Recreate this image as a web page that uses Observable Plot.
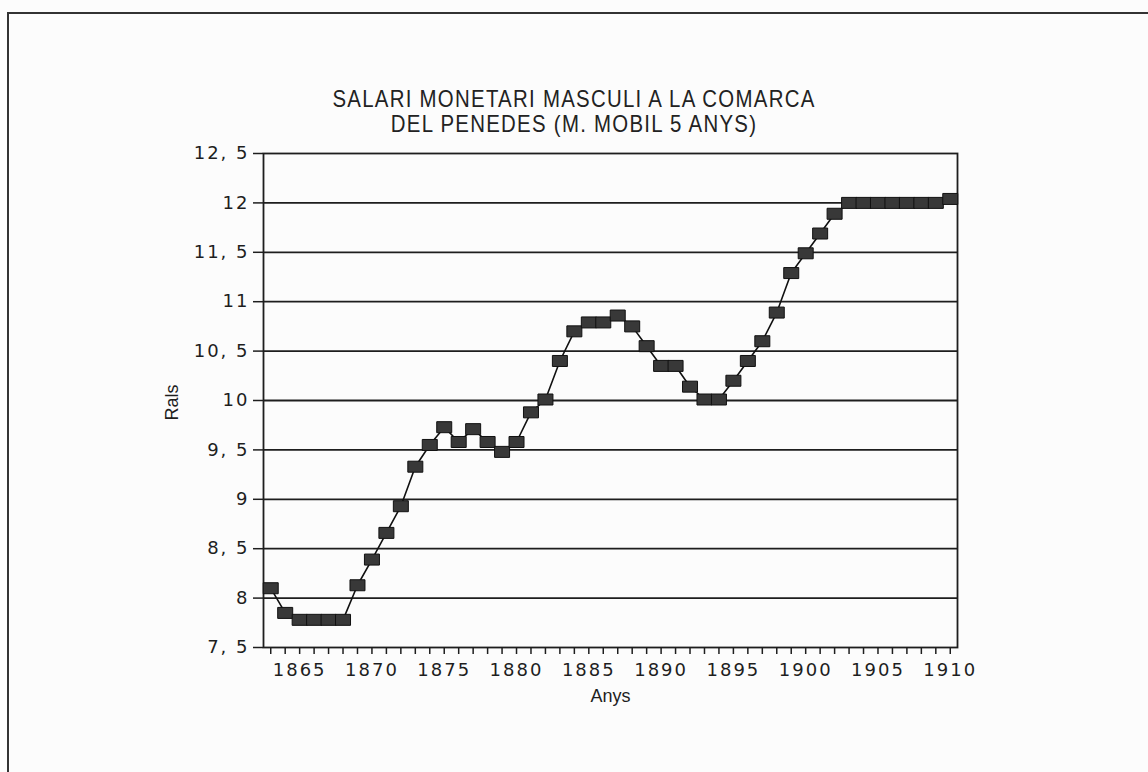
<!DOCTYPE html>
<html>
<head>
<meta charset="utf-8">
<script src="https://cdn.jsdelivr.net/npm/d3@7"></script>
<script src="https://cdn.jsdelivr.net/npm/@observablehq/plot@0.6"></script>
<style>
  body { margin: 0; background: #ffffff; }
  #wrap { position: relative; width: 1148px; height: 772px; overflow: hidden; background: #fcfcfc; }
  #frame { position: absolute; left: 7px; top: 12px; width: 1200px; height: 800px;
           border-left: 2px solid #333; border-top: 2px solid #333; }
  #title { position: absolute; left: 0; top: 0; width: 1148px; height: 140px; }
  #title div { position: absolute; left: 0; width: 1148px; text-align: center;
               font-family: "Liberation Sans", sans-serif;
               font-size: 24px; line-height: 26px; letter-spacing: 1.5px; color: #222;
               transform: scaleX(0.85); transform-origin: 574px 0; }
  #chart { position: absolute; left: 0; top: 140px; }
  #chart svg g[aria-label$="tick label"] text { letter-spacing: 2px; }
</style>
</head>
<body>
<div id="wrap">
  <div id="frame"></div>
  <div id="title">
    <div id="t1" style="top:86px"></div>
    <div id="t2" style="top:111px"></div>
  </div>
  <div id="chart"></div>
</div>
<script>
// ---- data ----
const titleLines = ["SALARI MONETARI MASCULI A LA COMARCA", "DEL PENEDES (M. MOBIL 5 ANYS)"];
const yLabel = "Rals";
const xLabel = "Anys";
const years = [1863, 1864, 1865, 1866, 1867, 1868, 1869, 1870, 1871, 1872,
               1873, 1874, 1875, 1876, 1877, 1878, 1879, 1880, 1881, 1882,
               1883, 1884, 1885, 1886, 1887, 1888, 1889, 1890, 1891, 1892,
               1893, 1894, 1895, 1896, 1897, 1898, 1899, 1900, 1901, 1902,
               1903, 1904, 1905, 1906, 1907, 1908, 1909, 1910];
const wages = [8.10, 7.85, 7.78, 7.78, 7.78, 7.78, 8.13, 8.39, 8.66, 8.93,
               9.33, 9.55, 9.73, 9.58, 9.71, 9.58, 9.48, 9.58, 9.88, 10.01,
               10.40, 10.70, 10.79, 10.79, 10.86, 10.75, 10.55, 10.35, 10.35, 10.14,
               10.01, 10.01, 10.20, 10.40, 10.60, 10.89, 11.29, 11.49, 11.69, 11.89,
               12.00, 12.00, 12.00, 12.00, 12.00, 12.00, 12.00, 12.04];
const yTicks = [7.5, 8, 8.5, 9, 9.5, 10, 10.5, 11, 11.5, 12, 12.5];
const gridLines = [8, 8.5, 9, 9.5, 10, 10.5, 11, 11.5, 12];
const xLabelYears = [1865, 1870, 1875, 1880, 1885, 1890, 1895, 1900, 1905, 1910];

// ---- build ----
document.getElementById("t1").textContent = titleLines[0];
document.getElementById("t2").textContent = titleLines[1];

const data = years.map((y, i) => ({year: y, value: wages[i]}));

const rectSymbol = {
  draw(context) { context.rect(-7.5, -5.5, 15, 11); }
};

const ink = "#1e1e1e";

const chart = Plot.plot({
  width: 1148,
  height: 632,
  marginLeft: 263,
  marginRight: 191,
  marginTop: 13,
  marginBottom: 125,
  x: {domain: [1862.5, 1910.5]},
  y: {domain: [7.5, 12.5]},
  style: {background: "transparent", fontFamily: "'DejaVu Sans', sans-serif", fontSize: "18px", color: ink},
  marks: [
    Plot.ruleY(gridLines, {stroke: ink, strokeWidth: 1.8}),
    Plot.frame({stroke: ink, strokeWidth: 1.8}),
    Plot.axisY({ticks: yTicks, tickFormat: d => String(d).replace(".", ", "),
                tickSize: 10, tickPadding: 4, label: null, stroke: ink, strokeWidth: 1.5}),
    Plot.axisX({ticks: years, tickFormat: d => xLabelYears.includes(d) ? String(d) : "",
                tickSize: 7, tickPadding: 9, label: null, stroke: ink, strokeWidth: 1.5}),
    Plot.line(data, {x: "year", y: "value", stroke: "#111", strokeWidth: 1.6}),
    Plot.dot(data, {x: "year", y: "value", symbol: rectSymbol, r: 5,
                    fill: "#383838", stroke: "#111", strokeWidth: 1}),
    Plot.text([yLabel], {frameAnchor: "left", dx: -91, dy: 20, rotate: -90,
                         fontFamily: "'Liberation Sans', sans-serif", fontSize: 18, fill: ink}),
    Plot.text([xLabel], {frameAnchor: "bottom", dy: 54,
                         fontFamily: "'Liberation Sans', sans-serif", fontSize: 18, fill: ink})
  ]
});
document.getElementById("chart").appendChild(chart);
</script>
</body>
</html>
